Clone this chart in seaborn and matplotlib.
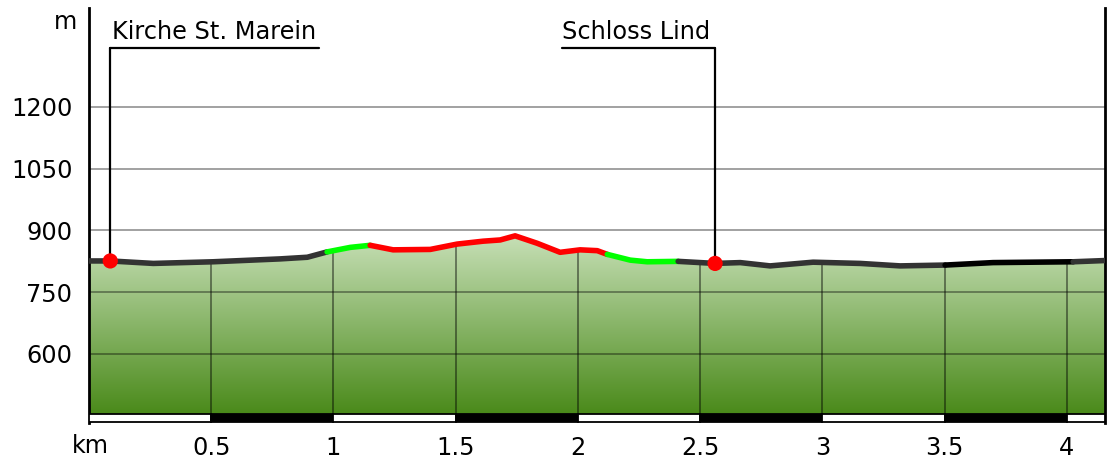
import numpy as np
import pandas as pd
import matplotlib
matplotlib.use("Agg")
import matplotlib.pyplot as plt
from matplotlib.colors import LinearSegmentedColormap
from matplotlib.patches import Rectangle
import seaborn as sns

# ---- data ----
km = [0.0, 0.087, 0.263, 0.508, 0.782, 0.893, 0.974, 1.069, 1.150, 1.244, 1.396,
      1.506, 1.612, 1.682, 1.743, 1.833, 1.927, 2.009, 2.079, 2.120, 2.214, 2.283,
      2.410, 2.561, 2.664, 2.786, 2.962, 3.155, 3.318, 3.502, 3.698, 4.026, 4.156]
elev = [826, 826, 820, 824, 831, 835, 848, 859, 864, 853, 854,
        867, 874, 877, 887, 869, 847, 853, 851, 842, 828, 824,
        825, 820, 822, 814, 823, 820, 814, 816, 822, 824, 827]
# gradient class segments (start km, end km, colour)
seg_start = [0.0, 0.974, 1.150, 2.120, 2.410, 3.502, 4.026]
seg_end = [0.974, 1.150, 2.120, 2.410, 3.502, 4.026, 4.156]
seg_color = ["#333333", "#00ff00", "#ff0000", "#00ff00", "#333333", "#000000", "#333333"]
# points of interest
poi_names = ["Kirche St. Marein", "Schloss Lind"]
poi_km = [0.087, 2.561]
poi_elev = [826, 820]
yticks = [600, 750, 900, 1050, 1200]
xticks = [0.5, 1, 1.5, 2, 2.5, 3, 3.5, 4]
xtick_labels = ["0.5", "1", "1.5", "2", "2.5", "3", "3.5", "4"]

df = pd.DataFrame({"km": km, "elev": elev})

sns.set_style("white")
plt.rcParams["font.family"] = ["DejaVu Sans"]
plt.rcParams["text.color"] = "black"
plt.rcParams["xtick.color"] = "black"
plt.rcParams["ytick.color"] = "black"

FS = 17.3

fig = plt.figure(figsize=(11.14, 4.61), dpi=100)
ax = fig.add_axes([89 / 1114, 38 / 461, 1016 / 1114, 415 / 461])
xmax = 4.156
ymin, ymax = 432.4, 1440.4
base = 454.3
ax.set_xlim(0, xmax)
ax.set_ylim(ymin, ymax)

# filled profile with gradient
poly = ax.fill_between(df["km"], df["elev"], base, color="none", lw=0)
cmap = LinearSegmentedColormap.from_list("g", ["#4a8a1a", "#c9e1b9"])
grad = np.linspace(0, 1, 256).reshape(-1, 1)
im = ax.imshow(grad, extent=(0, xmax, base, 895), origin="lower", cmap=cmap,
               aspect="auto", zorder=1)
clip = poly.get_paths()[0]
im.set_clip_path(clip, transform=ax.transData)

# grid
for y in yticks:
    ax.axhline(y, color="black", alpha=0.4, lw=1.3, zorder=2)
for x in xticks:
    ln, = ax.plot([x, x], [base, 1000], color="black", alpha=0.55, lw=1.1, zorder=2)
    ln.set_clip_path(clip, transform=ax.transData)

# profile segments
for s, e, c in zip(seg_start, seg_end, seg_color):
    sub = df[(df["km"] >= s - 1e-9) & (df["km"] <= e + 1e-9)]
    sns.lineplot(data=sub, x="km", y="elev", color=c, lw=4.0, ax=ax,
                 zorder=4, solid_capstyle="round", solid_joinstyle="round",
                 estimator=None, sort=False)

# scale bar
edges = list(np.arange(0, 4.5, 0.5)) + [xmax]
for i in range(len(edges) - 1):
    ax.add_patch(Rectangle((edges[i], ymin + 1.5), edges[i + 1] - edges[i], base - ymin - 1.5,
                           facecolor="white" if i % 2 == 0 else "black",
                           edgecolor="black", lw=1.3, zorder=3))

# POI annotations
y_ul = 1343
ax.plot([poi_km[0], poi_km[0]], [poi_elev[0], y_ul], color="black", lw=1.6, zorder=3)
ax.plot([poi_km[0], 0.939], [y_ul, y_ul], color="black", lw=1.6, zorder=3)
ax.text(poi_km[0] + 0.008, y_ul + 10, poi_names[0], fontsize=FS, ha="left", va="bottom",
        color="black")
ax.plot([poi_km[1], poi_km[1]], [poi_elev[1], y_ul], color="black", lw=1.6, zorder=3)
ax.plot([1.935, poi_km[1]], [y_ul, y_ul], color="black", lw=1.6, zorder=3)
ax.text(1.935, y_ul + 10, poi_names[1], fontsize=FS, ha="left", va="bottom", color="black")
sns.scatterplot(x=poi_km, y=poi_elev, color="#ff0000", s=120, ax=ax, zorder=5,
                edgecolor="none")

# axes styling
ax.set_yticks(yticks)
ax.set_yticklabels([str(v) for v in yticks], fontsize=FS, color="black")
ax.set_xticks(xticks)
ax.set_xticklabels(xtick_labels, fontsize=FS, color="black")
ax.tick_params(axis="y", length=0, pad=12)
ax.tick_params(axis="x", length=0, pad=9)
ax.set_xlabel("")
ax.set_ylabel("")
for side in ["top", "bottom"]:
    ax.spines[side].set_visible(False)
for side in ["left", "right"]:
    ax.spines[side].set_visible(True)
    ax.spines[side].set_color("black")
    ax.spines[side].set_linewidth(2)
fig.text(65 / 1114, 1 - 22 / 461, "m", fontsize=FS, ha="center", va="center", color="black")
fig.text(90 / 1114, 1 - 446 / 461, "km", fontsize=FS, ha="center", va="center", color="black")

fig.savefig("out.png", dpi=100)
